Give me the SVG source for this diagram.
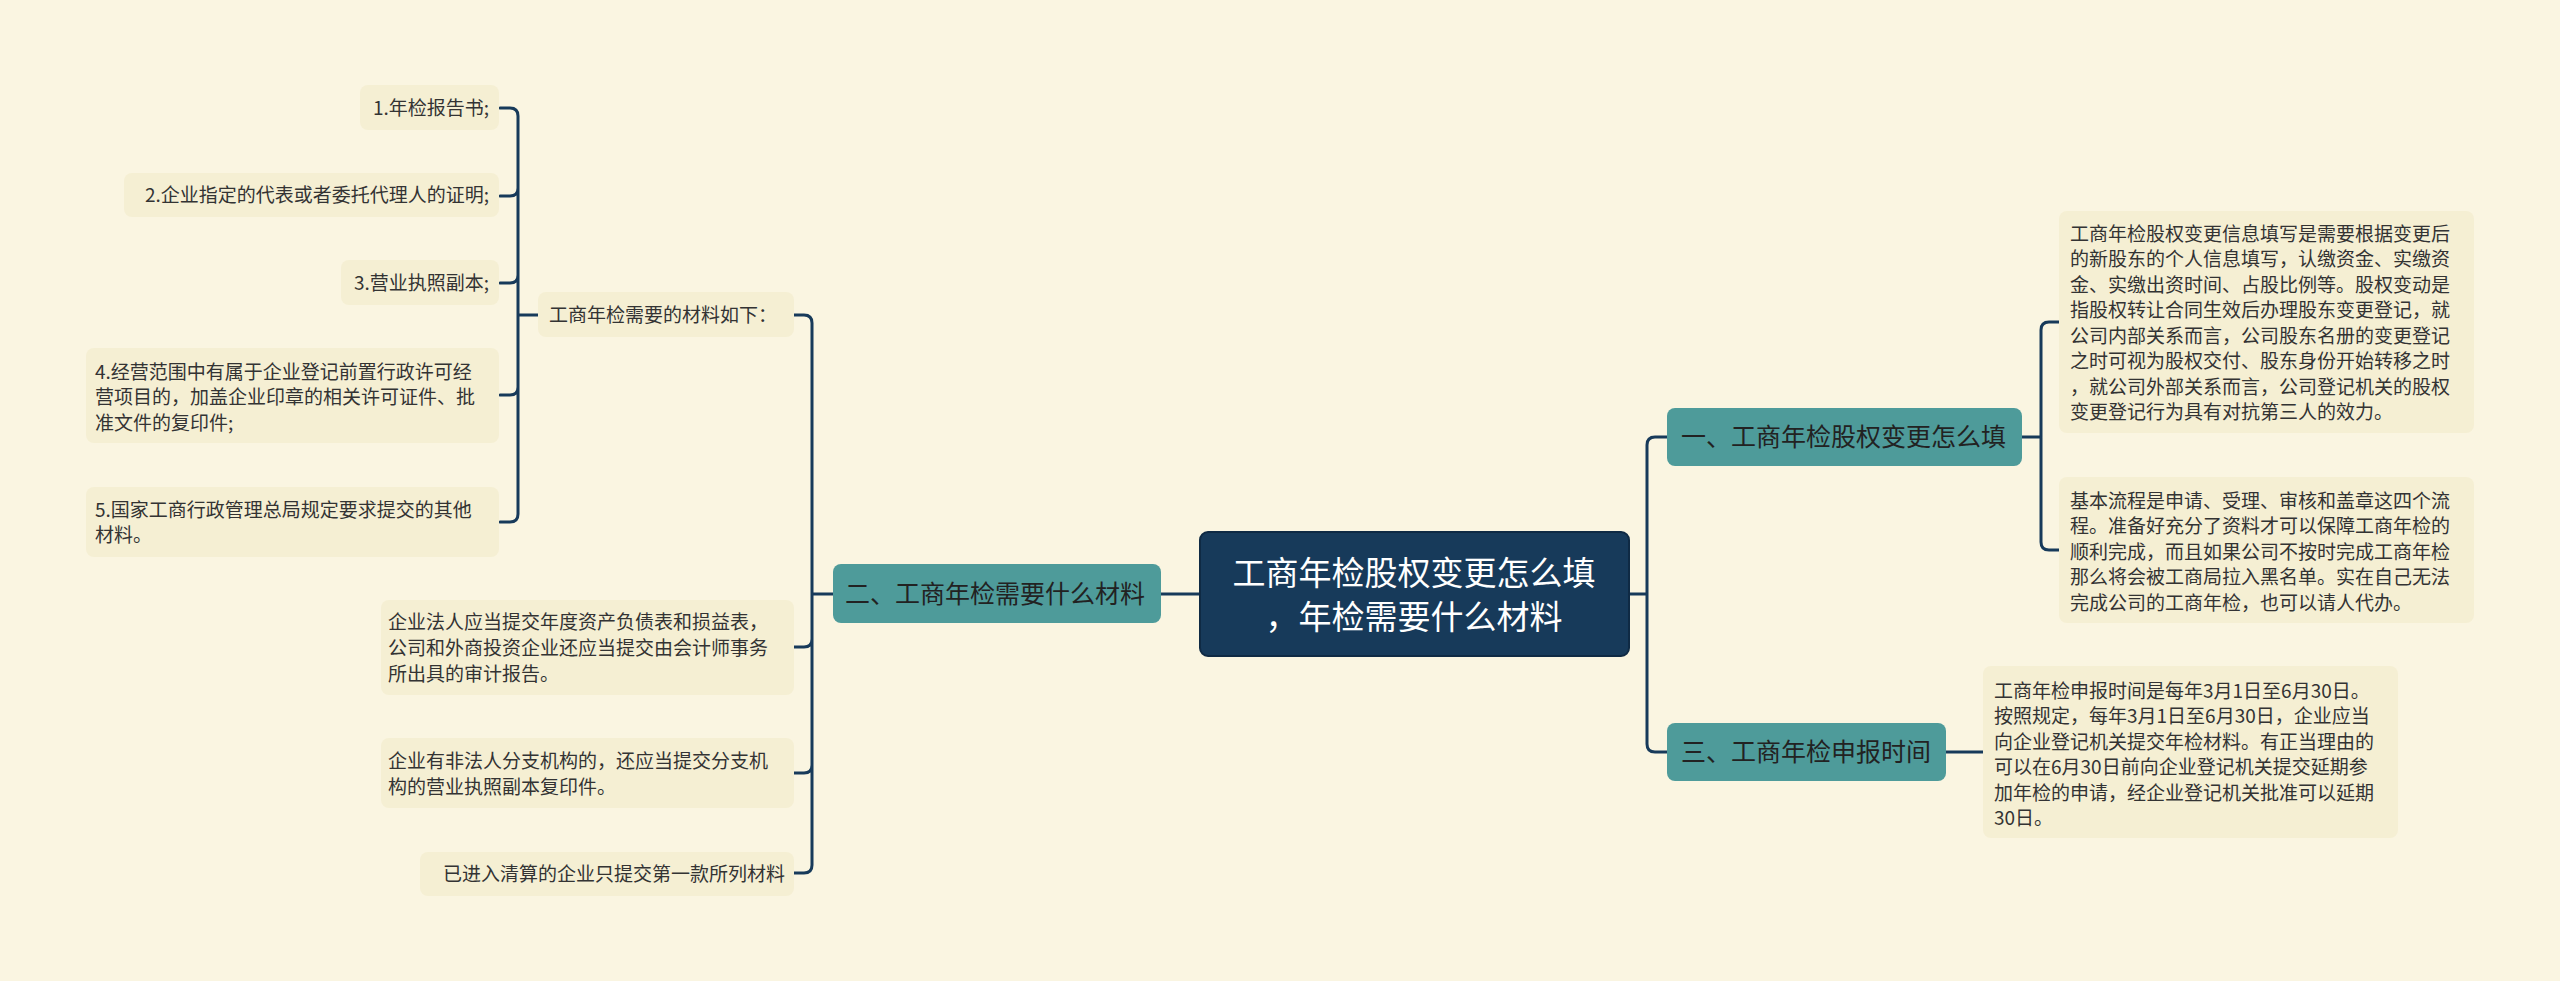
<svg xmlns="http://www.w3.org/2000/svg" width="2560" height="981" viewBox="0 0 2560 981">
<style>
text{font-family:"Noto Sans CJK SC","Noto Sans",sans-serif;fill:#333;}
.t{font-size:19px;}
.b{fill:#f5efd3;}
.teal{fill:#4e9b9a;}
.tt{font-size:25px;fill:#222;}
.c{fill:none;stroke:#173a5a;stroke-width:3;stroke-linecap:round;}
</style>
<rect width="2560" height="981" fill="#faf5e1"/>
<g id="connectors">
<path class="c" d="M538 315 H518 M518 116 Q518 108 510 108 H500 M518 188 Q518 196 510 196 H500 M518 204 V275 Q518 283 510 283 H500 M518 387 Q518 395 510 395 H500 M518 116 V514 Q518 522 510 522 H500"/>
<path class="c" d="M833 594 H812 M812 323 Q812 315 804 315 H794 M812 639 Q812 647 804 647 H794 M812 765 Q812 773 804 773 H794 M812 323 V865 Q812 873 804 873 H794"/>
<path class="c" d="M1200 594 H1161"/>
<path class="c" d="M1629 594 H1647 M1667 437 H1655 Q1647 437 1647 445 V744 Q1647 752 1655 752 H1667"/>
<path class="c" d="M2022 437 H2041 M2059 322 H2049 Q2041 322 2041 330 V542 Q2041 550 2049 550 H2059"/>
<path class="c" d="M1946 752 H1983"/>
</g>
<g id="center">
<rect x="1200" y="532" width="429" height="124" rx="8" fill="#173a5a" stroke="#0f2a44" stroke-width="2"/>
<text x="1414" y="585" font-size="33" text-anchor="middle" style="fill:#fff">工商年检股权变更怎么填</text>
<text x="1414" y="629" font-size="33" text-anchor="middle" style="fill:#fff">，年检需要什么材料</text>
</g>
<g id="n1">
<rect class="teal" x="1667" y="408" width="355" height="58" rx="8"/>
<text class="tt" x="1681" y="446">一、工商年检股权变更怎么填</text>
</g>
<g id="n2">
<rect class="teal" x="833" y="564" width="328" height="59" rx="8"/>
<text class="tt" x="845" y="603">二、工商年检需要什么材料</text>
</g>
<g id="n3">
<rect class="teal" x="1667" y="723" width="279" height="58" rx="8"/>
<text class="tt" x="1681" y="761">三、工商年检申报时间</text>
</g>
<g id="r1">
<rect class="b" x="2059" y="211" width="415" height="222" rx="8"/>
<text class="t" x="2070" y="241">工商年检股权变更信息填写是需要根据变更后</text>
<text class="t" x="2070" y="266">的新股东的个人信息填写，认缴资金、实缴资</text>
<text class="t" x="2070" y="292">金、实缴出资时间、占股比例等。股权变动是</text>
<text class="t" x="2070" y="317">指股权转让合同生效后办理股东变更登记，就</text>
<text class="t" x="2070" y="343">公司内部关系而言，公司股东名册的变更登记</text>
<text class="t" x="2070" y="368">之时可视为股权交付、股东身份开始转移之时</text>
<text class="t" x="2070" y="394">，就公司外部关系而言，公司登记机关的股权</text>
<text class="t" x="2070" y="419">变更登记行为具有对抗第三人的效力。</text>
</g>
<g id="r2">
<rect class="b" x="2059" y="477" width="415" height="146" rx="8"/>
<text class="t" x="2070" y="508">基本流程是申请、受理、审核和盖章这四个流</text>
<text class="t" x="2070" y="533">程。准备好充分了资料才可以保障工商年检的</text>
<text class="t" x="2070" y="559">顺利完成，而且如果公司不按时完成工商年检</text>
<text class="t" x="2070" y="584">那么将会被工商局拉入黑名单。实在自己无法</text>
<text class="t" x="2070" y="610">完成公司的工商年检，也可以请人代办。</text>
</g>
<g id="r3">
<rect class="b" x="1983" y="666" width="415" height="172" rx="8"/>
<text class="t" x="1994" y="698">工商年检申报时间是每年3月1日至6月30日。</text>
<text class="t" x="1994" y="723">按照规定，每年3月1日至6月30日，企业应当</text>
<text class="t" x="1994" y="749">向企业登记机关提交年检材料。有正当理由的</text>
<text class="t" x="1994" y="774">可以在6月30日前向企业登记机关提交延期参</text>
<text class="t" x="1994" y="800">加年检的申请，经企业登记机关批准可以延期</text>
<text class="t" x="1994" y="825">30日。</text>
</g>
<g id="m0">
<rect class="b" x="538" y="292" width="256" height="45" rx="8"/>
<text class="t" x="549" y="322">工商年检需要的材料如下：</text>
</g>
<g id="m1">
<rect class="b" x="360" y="85" width="139" height="45" rx="8"/>
<text class="t" x="489" y="115" text-anchor="end">1.年检报告书;</text>
</g>
<g id="m2">
<rect class="b" x="124" y="173" width="375" height="44" rx="8"/>
<text class="t" x="489" y="202" text-anchor="end">2.企业指定的代表或者委托代理人的证明;</text>
</g>
<g id="m3">
<rect class="b" x="341" y="260" width="158" height="45" rx="8"/>
<text class="t" x="489" y="290" text-anchor="end">3.营业执照副本;</text>
</g>
<g id="m4">
<rect class="b" x="86" y="348" width="413" height="95" rx="8"/>
<text class="t" x="95" y="379">4.经营范围中有属于企业登记前置行政许可经</text>
<text class="t" x="95" y="404">营项目的，加盖企业印章的相关许可证件、批</text>
<text class="t" x="95" y="430">准文件的复印件;</text>
</g>
<g id="m5">
<rect class="b" x="86" y="487" width="413" height="70" rx="8"/>
<text class="t" x="95" y="517">5.国家工商行政管理总局规定要求提交的其他</text>
<text class="t" x="95" y="542">材料。</text>
</g>
<g id="m6">
<rect class="b" x="381" y="600" width="413" height="95" rx="8"/>
<text class="t" x="388" y="629">企业法人应当提交年度资产负债表和损益表，</text>
<text class="t" x="388" y="655">公司和外商投资企业还应当提交由会计师事务</text>
<text class="t" x="388" y="681">所出具的审计报告。</text>
</g>
<g id="m7">
<rect class="b" x="381" y="738" width="413" height="70" rx="8"/>
<text class="t" x="388" y="768">企业有非法人分支机构的，还应当提交分支机</text>
<text class="t" x="388" y="794">构的营业执照副本复印件。</text>
</g>
<g id="m8">
<rect class="b" x="420" y="852" width="374" height="44" rx="8"/>
<text class="t" x="785" y="881" text-anchor="end">已进入清算的企业只提交第一款所列材料</text>
</g>
</svg>
